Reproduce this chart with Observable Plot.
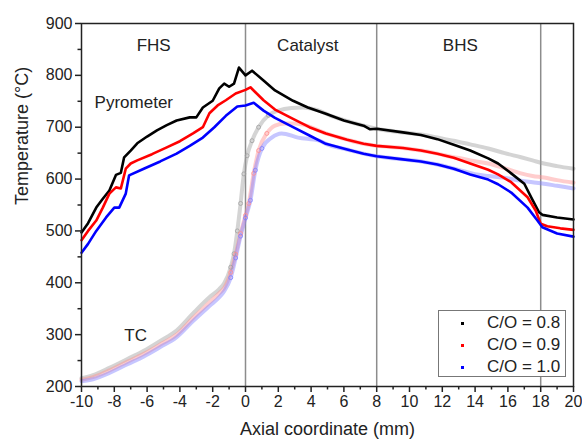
<!DOCTYPE html>
<html><head><meta charset="utf-8">
<script src="https://cdn.jsdelivr.net/npm/d3@7"></script>
<script src="https://cdn.jsdelivr.net/npm/@observablehq/plot@0.6"></script>
<style>
body{margin:0;background:#fff;font-family:"Liberation Sans",Arial,sans-serif;}
#wrap{position:relative;width:582px;height:444px;}
#legend{position:absolute;left:438px;top:310px;width:128px;height:67px;border:1.5px solid #777;box-sizing:border-box;background:#fff;font-size:17px;color:#222}
.row{position:absolute;left:48px;height:22px;line-height:22px;white-space:nowrap}
.dot{position:absolute;left:22px;width:3px;height:3px;}
</style>
</head><body>
<div id="wrap"><div id="legend"></div></div>
<script>
// ---- data ----
const seriesNames = ["C/O = 0.8", "C/O = 0.9", "C/O = 1.0"];
const pyroColors = ["#000000", "#ff0000", "#0000ff"];
const tcColors = ["#a0a0a0", "#ff9090", "#8080ff"];

const pyro08X = [-10,-9.6,-9.1,-8.7,-8.3,-7.9,-7.6,-7.4,-7.0,-6.6,-6.0,-5.4,-4.8,-4.2,-3.4,-3.0,-2.6,-2.0,-1.6,-1.3,-1.0,-0.7,-0.4,0,0.4,1.1,1.8,2.9,3.8,4.9,6.0,7.2,7.6,8.0,9.6,10.7,11.7,12.7,13.7,14.8,15.4,16.2,17.0,17.5,17.9,18.1,19,20];
const pyro08Y = [497,515,545,562,578,608,612,642,655,669,682,694,704,713,719,719,738,751,775,784,778,784,815,800,809,790,771,751,738,726,713,703,696,697,690,685,677,666,655,640,630,611,591,560,536,531,526,522];

const pyro09X = [-10,-9.6,-9.1,-8.7,-8.3,-7.9,-7.6,-7.3,-7.0,-6.6,-5.7,-4.8,-4.0,-3.2,-2.6,-2.2,-1.7,-1.2,-0.6,0,0.3,1.1,1.8,2.9,3.9,4.9,6.2,7.2,8.0,9.6,10.7,11.7,12.7,13.7,14.8,15.4,16.2,17.2,17.7,18.0,18.4,19.2,20];
const pyro09Y = [482,500,520,545,572,584,582,620,630,636,648,661,673,688,700,727,742,752,765,772,777,752,734,716,700,688,676,668,664,660,655,649,641,630,618,609,594,565,539,514,509,505,502];

const pyro10X = [-10,-9.6,-9.1,-8.5,-8.0,-7.7,-7.3,-7.1,-6.2,-5.2,-4.2,-3.4,-2.6,-1.9,-1.2,-0.5,0,0.5,1.1,1.8,2.9,3.9,4.9,6.2,7.2,8.0,9.6,10.7,11.7,12.7,13.7,14.8,15.4,16.2,17.2,17.8,18.1,19,20];
const pyro10Y = [458,475,500,526,545,545,572,607,620,634,649,664,680,700,722,740,742,747,732,718,700,684,668,657,649,644,638,634,628,620,609,599,590,574,545,520,507,495,489];

const tc08X = [-10,-9.3,-8.3,-7.2,-6.2,-5.2,-4.2,-3.2,-2.2,-1.6,-1.3,-0.9,-0.7,-0.5,-0.3,-0.1,0.1,0.4,0.8,1.4,2.0,2.8,3.5,4.4,5.2,6.2,7.2,8.0,9.6,10.7,11.7,12.7,13.7,14.8,15.8,16.8,17.5,18.2,19,20];
const tc08Y = [216,222,236,253,269,288,308,341,372,388,399,430,456,500,553,610,645,674,700,723,732,737,738,733,722,712,703,697,690,686,680,674,667,659,650,642,636,630,625,620];

const tc09X = [-10,-9.3,-8.3,-7.2,-6.2,-5.2,-4.2,-3.2,-2.2,-1.6,-1.3,-0.9,-0.6,-0.3,0,0.2,0.5,0.8,1.3,1.8,2.4,3.0,3.5,4.9,6.2,7.2,8,9.6,10.7,11.7,12.7,13.1,13.7,14.8,15.8,16.8,17.5,18.2,19,20];
const tc09Y = [213,218,231,248,263,281,300,332,362,380,390,420,455,495,530,553,611,655,688,703,707,707,705,688,676,668,664,660,655,649,642,640,636,630,621,611,606,603,598,593];

const tc10X = [-10,-9.3,-8.3,-7.2,-6.2,-5.2,-4.2,-3.2,-2.2,-1.6,-1.3,-0.9,-0.6,-0.3,0,0.3,0.6,1.0,1.6,2.2,3.2,4.5,4.9,6.2,7.2,8,9.6,10.7,11.7,12.7,13.7,14.1,14.8,15.7,16.8,17.5,18.2,19,20];
const tc10Y = [210,214,226,243,258,276,295,326,355,372,384,410,448,490,525,559,617,659,680,688,680,674,668,657,649,644,638,634,628,620,612,609,606,603,597,594,591,587,582];

const boundaries = [0, 8, 18];
const regionNames = ["FHS", "Catalyst", "BHS"];
const regionX = [-5.6, 3.8, 13.1];
const xTicks = [-10,-8,-6,-4,-2,0,2,4,6,8,10,12,14,16,18,20];
const xMinor = d3.range(-9, 20, 2);
const yTicks = [200,300,400,500,600,700,800,900];
const yMinor = [250,350,450,550,650,750,850];

// ---- build tables ----
const toRows = (xs, ys, s) => xs.map((x, i) => ({x, y: ys[i], s}));
const pyro = [toRows(pyro08X, pyro08Y, 0), toRows(pyro09X, pyro09Y, 1), toRows(pyro10X, pyro10Y, 2)];
const tc = [toRows(tc08X, tc08Y, 0), toRows(tc09X, tc09Y, 1), toRows(tc10X, tc10Y, 2)];
const regions = regionNames.map((t, i) => ({t, x: regionX[i]}));

const font = "Liberation Sans, Arial, sans-serif";
const chart = Plot.plot({
  width: 582, height: 444,
  marginLeft: 81, marginRight: 9, marginTop: 23, marginBottom: 58,
  x: {domain: [-10, 20]},
  y: {domain: [200, 900]},
  style: {fontFamily: font, fontSize: "16px", color: "#222", background: "#fff"},
  marks: [
    Plot.ruleX(boundaries, {stroke: "#8c8c8c", strokeWidth: 1.5}),
    ...tc.map((d, i) => Plot.line(d, {x: "x", y: "y", stroke: tcColors[i], strokeWidth: 4, strokeOpacity: 0.45, curve: "monotone-x"})),
    ...tc.map((d, i) => Plot.dot(d.filter(p => p.x > -1 && p.x < 1.5), {x: "x", y: "y", stroke: tcColors[i], r: 2, strokeWidth: 1, strokeOpacity: 0.8})),
    ...pyro.map((d, i) => Plot.line(d, {x: "x", y: "y", stroke: pyroColors[i], strokeWidth: 2.6, curve: "linear"})),
    Plot.frame({stroke: "#222", strokeWidth: 1.5}),
    Plot.axisX(xTicks, {tickSize: 6, tickPadding: 3, label: null, tickFormat: d => String(d), strokeWidth: 1.5, fontSize: 16}),
    Plot.axisX(xMinor, {tickSize: 3.5, text: null, label: null, strokeWidth: 1.5}),
    Plot.axisY(yTicks, {tickSize: 6, tickPadding: 3, label: null, tickFormat: d => String(d), strokeWidth: 1.5, fontSize: 16}),
    Plot.axisY(yMinor, {tickSize: 3.5, text: null, label: null, strokeWidth: 1.5}),
    Plot.text(regions, {x: "x", text: "t", frameAnchor: "top", dy: 15, fontSize: 17, fill: "#222"}),
    Plot.text(["Pyrometer"], {x: -9.2, y: 748, textAnchor: "start", fontSize: 17, fill: "#222"}),
    Plot.text(["TC"], {x: -6.7, y: 298, fontSize: 17, fill: "#222"}),
    Plot.text(["Temperature (°C)"], {frameAnchor: "left", dx: -59, rotate: -90, fontSize: 18, fill: "#222"}),
    Plot.text(["Axial coordinate (mm)"], {frameAnchor: "bottom", dy: 48, fontSize: 18, fill: "#222"})
  ]
});
document.getElementById("wrap").prepend(chart);

const legend = document.getElementById("legend");
seriesNames.forEach((n, i) => {
  const row = document.createElement("div");
  row.className = "row";
  row.style.top = (1 + i * 22) + "px";
  row.textContent = n;
  legend.appendChild(row);
  const dot = document.createElement("div");
  dot.className = "dot";
  dot.style.top = (11 + i * 22) + "px";
  dot.style.background = pyroColors[i];
  legend.appendChild(dot);
});
</script>
</body></html>
